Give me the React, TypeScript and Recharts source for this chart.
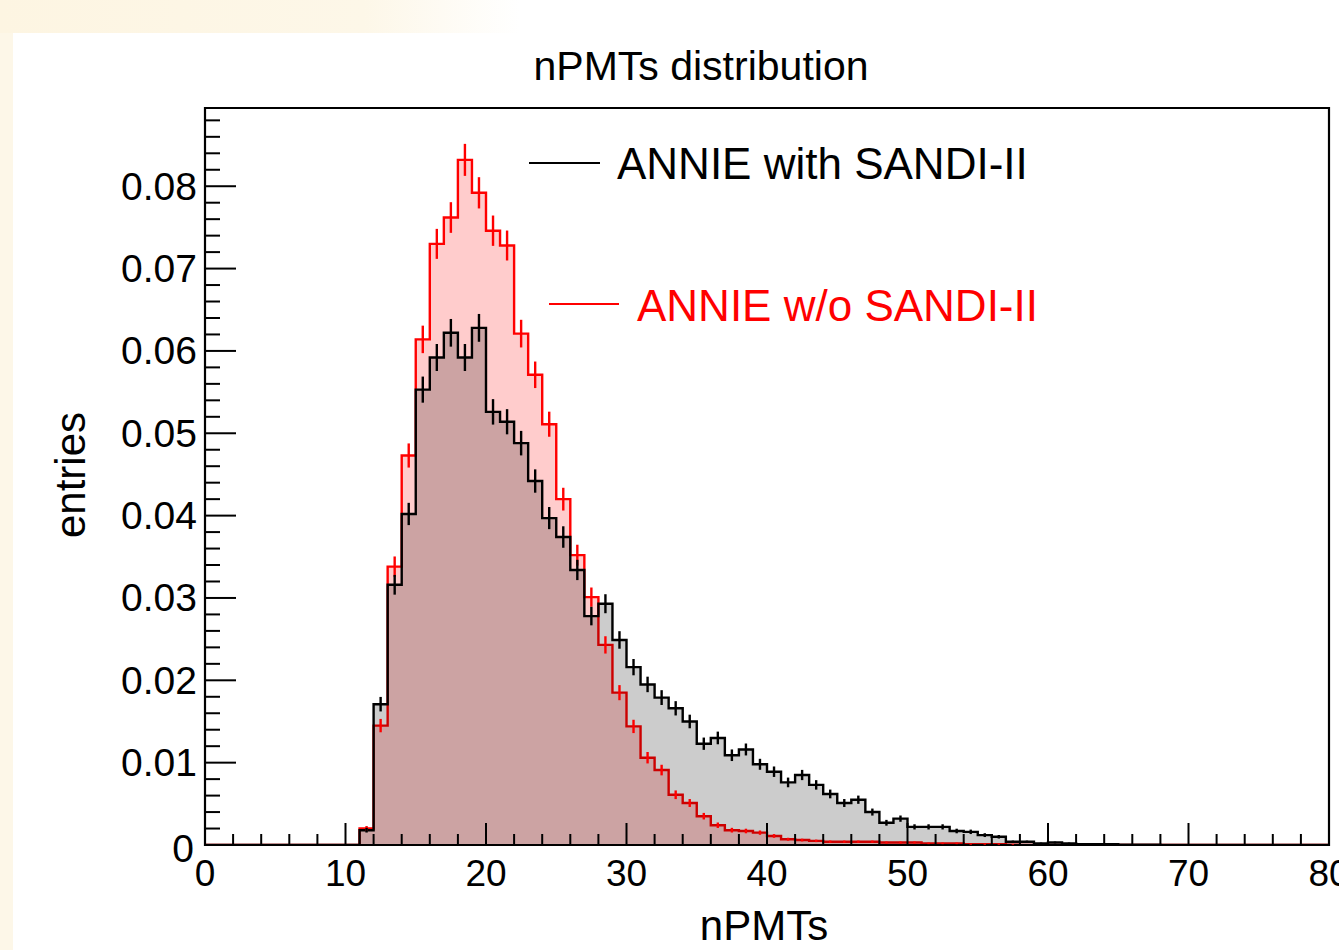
import React from "react";
import { ComposedChart, Area, Scatter, ErrorBar, XAxis, YAxis, ReferenceArea } from "recharts";

// nPMTs histogram, 1 PMT per bin, values start at bin [11,12)
const firstBin = 11;
const nBins = 80;

const withSandi = [
  0.0018, 0.0171, 0.0316, 0.0402, 0.0553, 0.0592, 0.0622, 0.0592, 0.0628, 0.0526,
  0.0514, 0.0488, 0.0442, 0.0397, 0.0374, 0.0334, 0.0278, 0.0293, 0.0249, 0.0216,
  0.0195, 0.0179, 0.0166, 0.015, 0.0123, 0.013, 0.0109, 0.0116, 0.0098, 0.0089,
  0.0076, 0.0085, 0.0073, 0.0062, 0.0051, 0.0055, 0.004, 0.0027, 0.0032, 0.0022,
  0.0022, 0.0022, 0.0017, 0.0016, 0.0012, 0.001, 0.0004, 0.0004, 0.0002, 0.0003,
  0.0002, 0.0001, 0.0001, 0.0001, 0.00005, 0.00005, 0.00005,
];

const withoutSandi = [
  0.002, 0.0145, 0.0338, 0.0473, 0.0614, 0.073, 0.0762, 0.0832, 0.0792, 0.0746,
  0.0728, 0.0621, 0.0571, 0.0511, 0.042, 0.0352, 0.0301, 0.0243, 0.0185, 0.0144,
  0.0106, 0.0091, 0.0061, 0.0051, 0.0035, 0.0024, 0.0018, 0.0017, 0.0015, 0.0011,
  0.0007, 0.0006, 0.0005, 0.0004, 0.0004, 0.0004, 0.0004, 0.0003, 0.0003, 0.0003,
  0.0002, 0.0002, 0.0002, 0.0001, 0.0001, 0.0001, 0.00005,
];

// normalised histograms, errors from sqrt(N)
const nEntries = 22000;

const xMajorTicks = [0, 10, 20, 30, 40, 50, 60, 70, 80];
const xTickLabels = ["0", "10", "20", "30", "40", "50", "60", "70", "80"];
const yMajorTicks = [0, 0.01, 0.02, 0.03, 0.04, 0.05, 0.06, 0.07, 0.08];
const yTickLabels = ["0", "0.01", "0.02", "0.03", "0.04", "0.05", "0.06", "0.07", "0.08"];

const yMax = 0.0895;
const font = "'Liberation Sans', Arial, Helvetica, sans-serif";

const binValue = (arr: number[], i: number) =>
  i >= firstBin && i - firstBin < arr.length ? arr[i - firstBin] : 0;

const histData = Array.from({ length: nBins + 1 }, (_, i) => ({
  x: i,
  black: binValue(withSandi, Math.min(i, nBins - 1)),
  red: binValue(withoutSandi, Math.min(i, nBins - 1)),
}));

const errData = (arr: number[]) =>
  arr
    .map((v, k) => ({ x: firstBin + k + 0.5, y: v, err: Math.sqrt(v / nEntries) }))
    .filter((d) => d.y > 0);

const blackErr = errData(withSandi);
const redErr = errData(withoutSandi);

// minor ticks: 5 subdivisions per major
const xTicks = Array.from({ length: 41 }, (_, i) => i * 2);
const yTicks = Array.from({ length: 45 }, (_, i) => (i * 2) / 1000);

const XTick = (props: any) => {
  const { x, y, payload } = props;
  const idx = xMajorTicks.indexOf(Math.round(payload.value));
  const major = idx >= 0;
  return (
    <g>
      <line x1={x} x2={x} y1={y} y2={y - (major ? 22 : 11)} stroke="#000" strokeWidth={2} />
      {major && (
        <text x={x} y={y + 28} textAnchor="middle" dominantBaseline="central" fontSize={37} fontFamily={font} fill="#000">
          {xTickLabels[idx]}
        </text>
      )}
    </g>
  );
};

const YTick = (props: any) => {
  const { x, y, payload } = props;
  const idx = yMajorTicks.findIndex((t) => Math.abs(t - payload.value) < 1e-6);
  const major = idx >= 0;
  const isZero = idx === 0;
  return (
    <g>
      <line x1={x} x2={x + (major ? 31 : 15)} y1={y} y2={y} stroke="#000" strokeWidth={2} />
      {major && (
        <text
          x={x - (isZero ? 11 : 8)}
          y={y + (isZero ? 3 : 0)}
          textAnchor="end"
          dominantBaseline="central"
          fontSize={39}
          fontFamily={font}
          fill="#000"
        >
          {yTickLabels[idx]}
        </text>
      )}
    </g>
  );
};

const NoDot = () => <g />;

export default function App() {
  return (
    <div style={{ position: "absolute", left: 0, top: 0, width: 1339, height: 950, background: "#fff", overflow: "hidden" }}>
      <div style={{ position: "absolute", left: 0, top: 0, width: 13, height: 950, background: "#fdf7e8" }} />
      <div
        style={{
          position: "absolute", left: 0, top: 0, width: 520, height: 33,
          background: "linear-gradient(90deg, #fdf5e2 0%, #fdf7e8 70%, #ffffff 100%)",
        }}
      />
      <div style={{ position: "absolute", left: 0, top: 0 }}>
        <ComposedChart
          width={1339}
          height={950}
          data={histData}
          margin={{ top: 108, right: 10, bottom: 104, left: 204 }}
        >
          <XAxis
            dataKey="x"
            type="number"
            domain={[0, 80]}
            ticks={xTicks}
            interval={0}
            tick={<XTick />}
            tickLine={false}
            tickSize={0}
            tickMargin={0}
            axisLine={false}
            height={1}
            allowDataOverflow
          />
          <YAxis
            type="number"
            domain={[0, yMax]}
            ticks={yTicks}
            interval={0}
            tick={<YTick />}
            tickLine={false}
            tickSize={0}
            tickMargin={0}
            axisLine={false}
            width={1}
            allowDataOverflow
          />
          <Area
            type="stepAfter"
            dataKey="red"
            stroke="#ff0000"
            strokeWidth={2.4}
            fill="#ff0000"
            fillOpacity={0.2}
            isAnimationActive={false}
            dot={false}
            activeDot={false}
          />
          <Scatter data={redErr} dataKey="y" shape={<NoDot />} isAnimationActive={false}>
            <ErrorBar dataKey="err" direction="y" width={0} stroke="#ff0000" strokeWidth={2.4} isAnimationActive={false} />
          </Scatter>
          <Area
            type="stepAfter"
            dataKey="black"
            stroke="#000000"
            strokeWidth={2.4}
            fill="#000000"
            fillOpacity={0.2}
            isAnimationActive={false}
            dot={false}
            activeDot={false}
          />
          <Scatter data={blackErr} dataKey="y" shape={<NoDot />} isAnimationActive={false}>
            <ErrorBar dataKey="err" direction="y" width={0} stroke="#000000" strokeWidth={2.4} isAnimationActive={false} />
          </Scatter>
          <ReferenceArea x1={0} x2={80} y1={0} y2={yMax} fill="none" stroke="#000" strokeWidth={2.2} ifOverflow="visible" />
        </ComposedChart>
      </div>
      <svg width={1339} height={950} style={{ position: "absolute", left: 0, top: 0, pointerEvents: "none" }}>
        <text x={701} y={66} textAnchor="middle" dominantBaseline="central" fontSize={41} fontFamily={font} fill="#000">
          nPMTs distribution
        </text>
        <text x={764} y={925} textAnchor="middle" dominantBaseline="central" fontSize={42} fontFamily={font} fill="#000">
          nPMTs
        </text>
        <text
          x={70}
          y={475}
          textAnchor="middle"
          dominantBaseline="central"
          fontSize={42}
          fontFamily={font}
          fill="#000"
          transform="rotate(-90 70 475)"
        >
          entries
        </text>
        <line x1={529} x2={600} y1={163} y2={163} stroke="#000" strokeWidth={2.2} />
        <text x={617} y={163} dominantBaseline="central" fontSize={44} fontFamily={font} fill="#000">
          ANNIE with SANDI-II
        </text>
        <line x1={549} x2={619} y1={304} y2={304} stroke="#ff0000" strokeWidth={2.2} />
        <text x={637} y={305} dominantBaseline="central" fontSize={44} fontFamily={font} fill="#ff0000">
          ANNIE w/o SANDI-II
        </text>
      </svg>
    </div>
  );
}
